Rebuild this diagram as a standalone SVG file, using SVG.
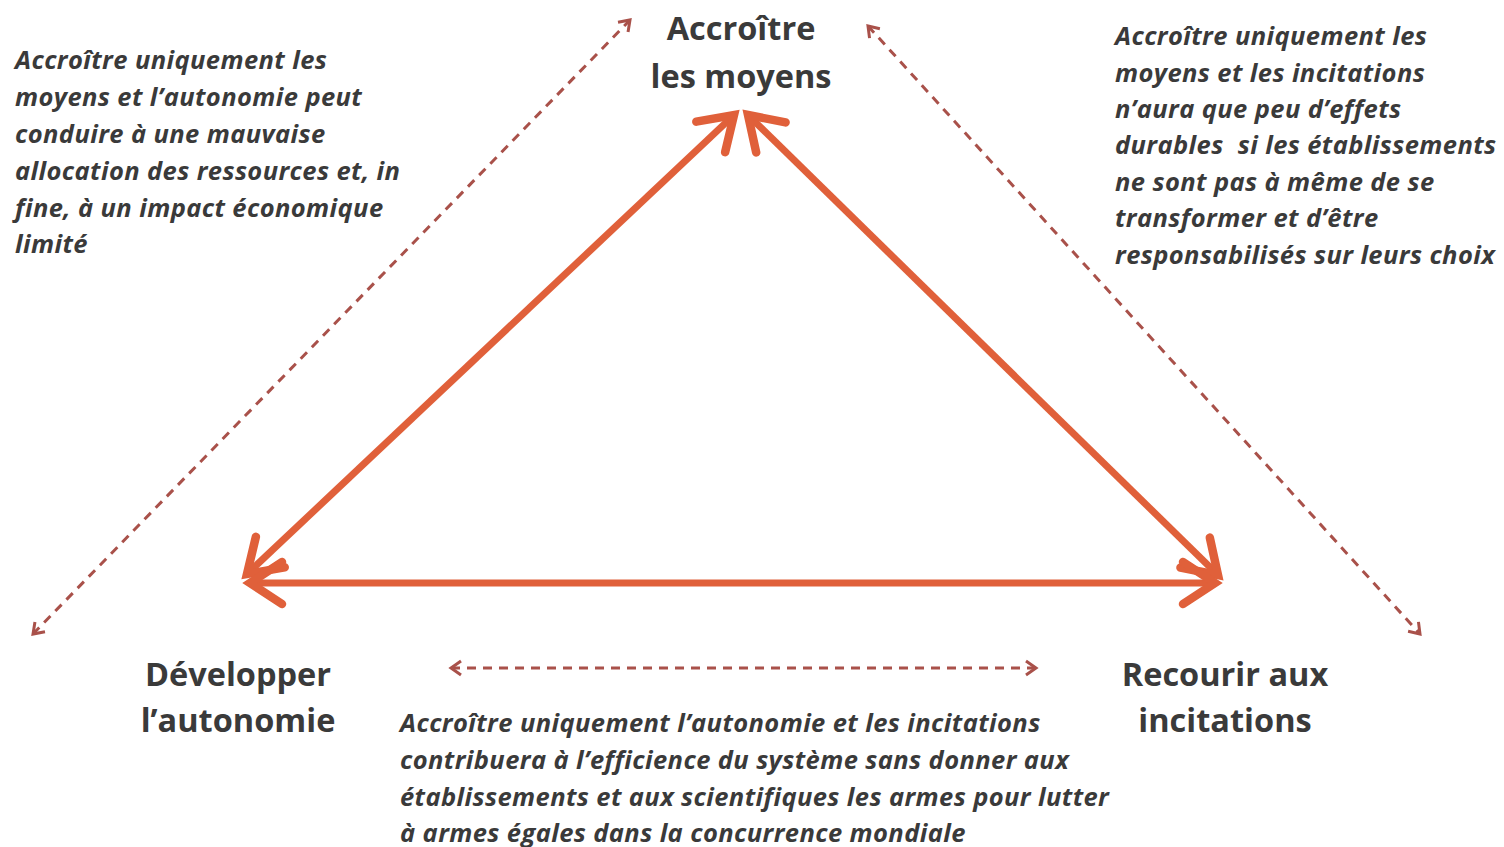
<svg xmlns="http://www.w3.org/2000/svg" width="1504" height="847" viewBox="0 0 1504 847">
<defs>
<style>
.node{font-family:"Open Sans","Liberation Sans",Arial,sans-serif;font-weight:bold;font-size:32.5px;fill:#3a3a3a;text-anchor:middle}
.note{font-family:"Open Sans","Liberation Sans",Arial,sans-serif;font-weight:bold;font-style:italic;font-size:25.5px;letter-spacing:0.4px;fill:#3a3a3a}
.solid{stroke:#E0603A;stroke-width:7;fill:none}
.dash{stroke:#A9514A;stroke-width:3;fill:none;stroke-dasharray:9 7}
</style>
<marker id="hs" markerUnits="userSpaceOnUse" markerWidth="60" markerHeight="60" viewBox="-40 -30 50 60" refX="0" refY="0" orient="auto-start-reverse">
<path d="M -32,-21 L 0,0 L -32,21" fill="none" stroke="#E0603A" stroke-width="8.5" stroke-linejoin="miter" stroke-linecap="round"/>
</marker>
<marker id="hd" markerUnits="userSpaceOnUse" markerWidth="24" markerHeight="24" viewBox="-14 -12 18 24" refX="0" refY="0" orient="auto-start-reverse">
<path d="M -10,-7 L 0,0 L -10,7" fill="none" stroke="#A9514A" stroke-width="3"/>
</marker>
</defs>
<rect width="1504" height="847" fill="#ffffff"/>
<g id="connectors">
<line class="solid" x1="247" y1="574" x2="734" y2="115" marker-start="url(#hs)" marker-end="url(#hs)"/>
<line class="solid" x1="748" y1="115" x2="1218" y2="575" marker-start="url(#hs)" marker-end="url(#hs)"/>
<line class="solid" x1="250" y1="583" x2="1215" y2="583" marker-start="url(#hs)" marker-end="url(#hs)"/>
<line class="dash" x1="33" y1="634" x2="630" y2="20" marker-start="url(#hd)" marker-end="url(#hd)"/>
<line class="dash" x1="868" y1="26" x2="1420" y2="634" marker-start="url(#hd)" marker-end="url(#hd)"/>
<line class="dash" x1="451" y1="668" x2="1036" y2="668" marker-start="url(#hd)" marker-end="url(#hd)"/>
</g>
<g id="node-moyens">
<text class="node" x="741" y="40">Accroître</text>
<text class="node" x="741" y="88">les moyens</text>
</g>
<g id="node-autonomie">
<text class="node" x="238" y="686">Développer</text>
<text class="node" x="238" y="732">l’autonomie</text>
</g>
<g id="node-incitations">
<text class="node" x="1225" y="686">Recourir aux</text>
<text class="node" x="1225" y="732">incitations</text>
</g>
<g id="note-left">
<text class="note" x="15" y="69">Accroître uniquement les</text>
<text class="note" x="15" y="106">moyens et l’autonomie peut</text>
<text class="note" x="15" y="143">conduire à une mauvaise</text>
<text class="note" x="15" y="180">allocation des ressources et, in</text>
<text class="note" x="15" y="217">fine, à un impact économique</text>
<text class="note" x="15" y="253">limité</text>
</g>
<g id="note-right">
<text class="note" x="1115" y="45">Accroître uniquement les</text>
<text class="note" x="1115" y="82">moyens et les incitations</text>
<text class="note" x="1115" y="118">n’aura que peu d’effets</text>
<text class="note" x="1115" y="154">durables&#160; si les établissements</text>
<text class="note" x="1115" y="191">ne sont pas à même de se</text>
<text class="note" x="1115" y="227">transformer et d’être</text>
<text class="note" x="1115" y="264">responsabilisés sur leurs choix</text>
</g>
<g id="note-bottom">
<text class="note" x="400" y="732">Accroître uniquement l’autonomie et les incitations</text>
<text class="note" x="400" y="769">contribuera à l’efficience du système sans donner aux</text>
<text class="note" x="400" y="806">établissements et aux scientifiques les armes pour lutter</text>
<text class="note" x="400" y="842">à armes égales dans la concurrence mondiale</text>
</g>
</svg>
